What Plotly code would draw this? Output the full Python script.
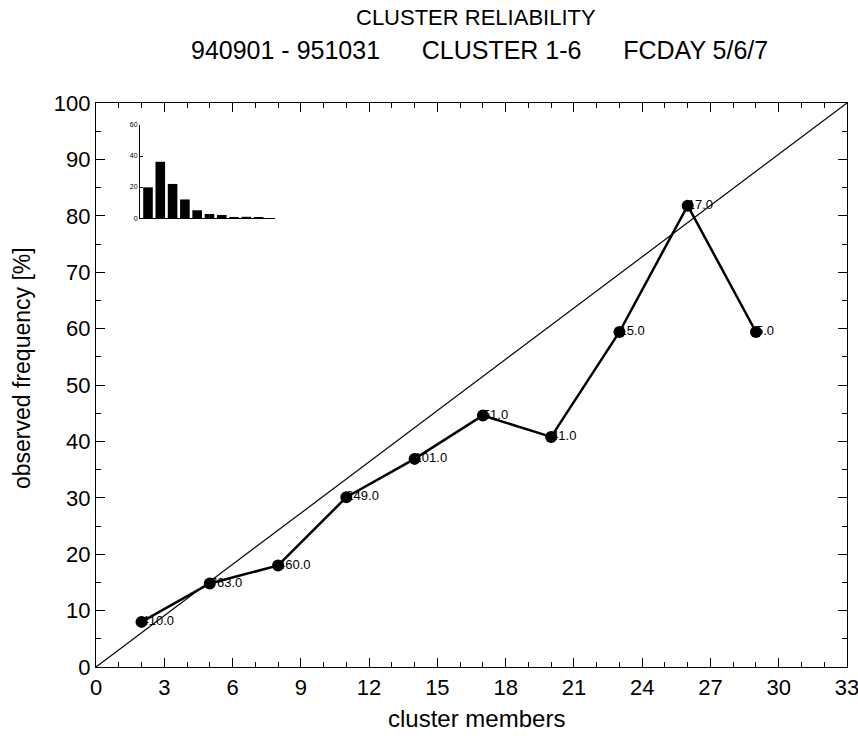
import plotly.graph_objects as go

# ---- data ----
members = [2, 5, 8, 11, 14, 17, 20, 23, 26, 29]
observed_freq = [8.0, 14.8, 18.0, 30.1, 36.9, 44.6, 40.8, 59.4, 81.8, 59.4]
counts = [410, 763, 460, 249, 101, 51, 41, 15, 17, 5]
count_labels = ["410.0", "763.0", "460.0", "249.0", "101.0", "51.0", "41.0", "15.0", "17.0", "5.0"]
hist_bins = [1, 2, 3, 4, 5, 6, 7, 8, 9, 10]
hist_pct = [19.8, 36.3, 22.0, 12.0, 5.0, 2.6, 2.0, 0.7, 0.8, 0.3]
diag_x = [0, 33]
diag_y = [0, 100]
x_ticks = list(range(0, 34, 3))
y_ticks = list(range(0, 101, 10))
inset_y_ticks = [0, 20, 40, 60]

FONT = "Liberation Sans, Arial, Helvetica, sans-serif"

W, H = 858, 738
ML, MR, MT, MB = 96, 11, 103, 71
PW, PH = W - ML - MR, H - MT - MB


def px(x):
    return (x - ML) / PW


def py(y):
    return (H - MB - y) / PH


fig = go.Figure()

# diagonal reference line
fig.add_trace(go.Scatter(x=diag_x, y=diag_y, mode="lines",
                         line=dict(color="black", width=1.2),
                         showlegend=False, hoverinfo="skip"))

# labels (drawn beneath markers)
fig.add_trace(go.Scatter(x=members, y=observed_freq, mode="text",
                         text=count_labels, textposition="middle right",
                         textfont=dict(family=FONT, size=13, color="black"),
                         showlegend=False, hoverinfo="skip"))

# reliability curve
fig.add_trace(go.Scatter(x=members, y=observed_freq, mode="lines+markers",
                         line=dict(color="black", width=2.5),
                         marker=dict(color="black", size=12),
                         showlegend=False))

# inset histogram
fig.add_trace(go.Bar(x=hist_bins, y=hist_pct, xaxis="x2", yaxis="y2",
                     marker=dict(color="black", line=dict(width=0)),
                     width=0.78, showlegend=False))

axis_common = dict(showgrid=False, zeroline=False, showline=True,
                   linecolor="black", linewidth=1.2, mirror="ticks",
                   ticks="inside", tickcolor="black", tickwidth=1,
                   ticklabeloverflow="allow", automargin=False,
                   tickfont=dict(family=FONT, size=22, color="black"))

fig.update_layout(
    width=W, height=H,
    margin=dict(l=ML, r=MR, t=MT, b=MB, autoexpand=False),
    paper_bgcolor="white", plot_bgcolor="white",
    font=dict(family=FONT, color="black"),
    xaxis=dict(range=[0, 33], tickvals=x_ticks, ticklen=9,
               minor=dict(dtick=1, ticks="inside", ticklen=5, tickcolor="black"),
               **axis_common),
    yaxis=dict(range=[0, 100], tickvals=y_ticks, ticklen=9,
               minor=dict(dtick=5, ticks="inside", ticklen=5, tickcolor="black"),
               **axis_common),
    xaxis2=dict(domain=[0.0586, 0.2383], anchor="y2", range=[0.35, 11.33],
                showgrid=False, zeroline=False, showline=True, linecolor="black",
                linewidth=1, showticklabels=False, ticks=""),
    yaxis2=dict(domain=[0.796, 0.961], anchor="x2", range=[0, 60],
                tickvals=inset_y_ticks, showgrid=False, zeroline=False,
                showline=True, linecolor="black", linewidth=1,
                ticks="inside", ticklen=3, tickcolor="black",
                tickfont=dict(family=FONT, size=7, color="black")),
    annotations=[
        dict(text="CLUSTER RELIABILITY", x=px(476), y=py(18),
             xref="paper", yref="paper", xanchor="center", yanchor="middle",
             showarrow=False, font=dict(family=FONT, size=22, color="black")),
        dict(text="940901 - 951031" + "&nbsp;" * 6 + "CLUSTER 1-6" + "&nbsp;" * 6 + "FCDAY 5/6/7",
             x=px(479), y=py(50), xref="paper", yref="paper",
             xanchor="center", yanchor="middle",
             showarrow=False, font=dict(family=FONT, size=25, color="black")),
        dict(text="cluster members", x=px(476), y=py(718),
             xref="paper", yref="paper", xanchor="center", yanchor="middle",
             showarrow=False, font=dict(family=FONT, size=24, color="black")),
        dict(text="observed frequency [%]", x=px(22), y=py(368), textangle=-90,
             xref="paper", yref="paper", xanchor="center", yanchor="middle",
             showarrow=False, font=dict(family=FONT, size=23, color="black")),
    ],
)

fig.write_html("out.html")
